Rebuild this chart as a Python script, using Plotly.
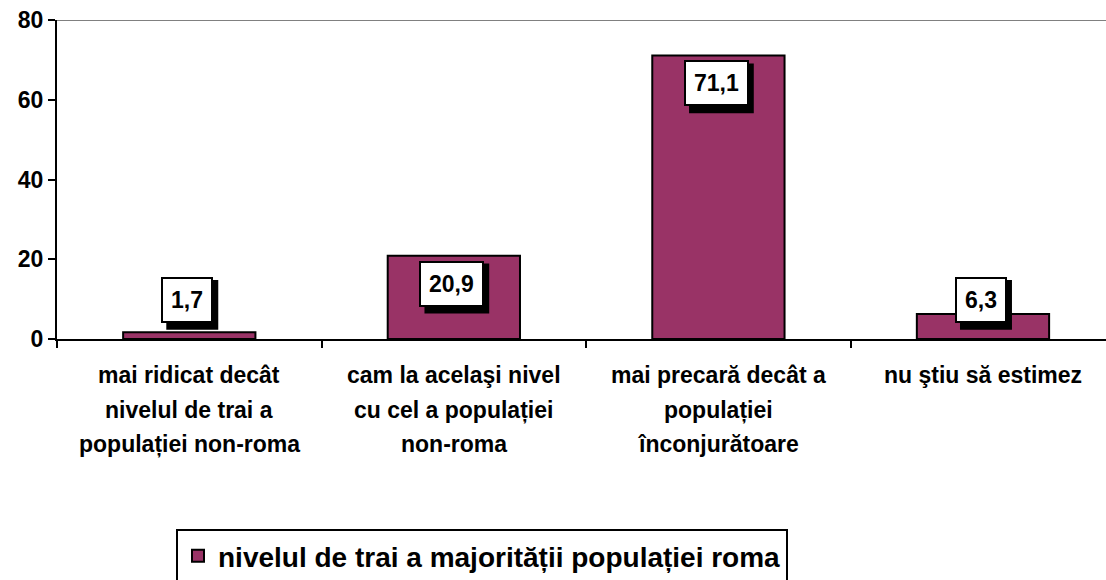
import plotly.graph_objects as go

# Data
categories = [
    ["mai ridicat decât", "nivelul de trai a", "populației non-roma"],
    ["cam la acelaşi nivel", "cu cel a populației", "non-roma"],
    ["mai precară decât a", "populației", "înconjurătoare"],
    ["nu ştiu să estimez"],
]
values = [1.7, 20.9, 71.1, 6.3]
value_labels = ["1,7", "20,9", "71,1", "6,3"]
series_name = "nivelul de trai a majorității populației roma"
y_ticks = [0, 20, 40, 60, 80]

FONT = "Arial, Liberation Sans, sans-serif"
FS = 23
BAR_COLOR = "#993366"
PAD, BW = 8, 2
x_pos = list(range(len(values)))

# Approximate Arial Bold advance widths (em) for the label characters
CHAR_W = {",": 0.278}


def label_box(text):
    w = sum(CHAR_W.get(c, 0.556) for c in text) * FS + 2 * PAD + 2 * BW
    h = FS * 1.3 + 2 * PAD + 2 * BW
    return w, h


fig = go.Figure()
fig.add_trace(go.Bar(
    x=x_pos,
    y=values,
    width=0.5,
    name=f"<b>{series_name}</b>",
    marker=dict(color=BAR_COLOR, line=dict(color="black", width=2)),
    showlegend=True,
))

annotations = []
shapes = [dict(type="line", xref="paper", yref="y", x0=0, x1=1, y0=80, y1=80,
               line=dict(color="#808080", width=2), layer="below")]

# Value labels: white boxes with a black drop shadow, placed inside the bar top
for xi, v, lab in zip(x_pos, values, value_labels):
    ly = max(v - 7.0, 9.8)
    w, h = label_box(lab)
    shapes.append(dict(
        type="rect", xref="x", yref="y",
        xsizemode="pixel", ysizemode="pixel", xanchor=xi, yanchor=ly,
        x0=-w / 2 + 3, x1=w / 2 + 3, y0=-h / 2 - 5, y1=h / 2 - 5,
        fillcolor="black", line=dict(width=0), layer="above",
    ))
    annotations.append(dict(
        x=xi, y=ly, xref="x", yref="y", text=f"<b>{lab}</b>", showarrow=False,
        font=dict(family=FONT, size=FS, color="black"),
        borderpad=PAD, borderwidth=BW, bgcolor="white", bordercolor="black",
        xanchor="center", yanchor="middle", xshift=-2,
    ))

# Category labels, one annotation per text line
line_offsets = [-36, -71, -105]
for xi, lines in zip(x_pos, categories):
    for ln, off in zip(lines, line_offsets):
        annotations.append(dict(
            x=xi, y=0, xref="x", yref="y", text=f"<b>{ln}</b>", showarrow=False,
            font=dict(family=FONT, size=FS, color="black"),
            xanchor="center", yanchor="middle", yshift=off,
        ))

fig.update_layout(
    width=1106, height=580,
    margin=dict(l=57, r=0, t=20, b=241, autoexpand=False),
    paper_bgcolor="white", plot_bgcolor="white",
    annotations=annotations,
    shapes=shapes,
    showlegend=True,
    legend=dict(
        x=(176 - 57) / 1049, y=(339 - 529) / 319, xanchor="left", yanchor="top",
        bgcolor="white", bordercolor="black", borderwidth=2,
        font=dict(family=FONT, size=28, color="black"),
        itemwidth=30,
    ),
    font=dict(family=FONT, size=FS, color="black"),
)

fig.update_xaxes(
    range=[-0.5, 3.465],
    tickvals=[-0.5, 0.5, 1.5, 2.5, 3.5],
    ticktext=["", "", "", "", ""],
    ticks="outside", ticklen=7, tickwidth=2, tickcolor="black",
    showline=True, linecolor="black", linewidth=2,
    showgrid=False, zeroline=False, fixedrange=True,
)
fig.update_yaxes(
    range=[0, 80],
    tickvals=y_ticks,
    ticktext=[f"<b>{t}</b>" for t in y_ticks],
    ticks="outside", ticklen=7, tickwidth=2, tickcolor="black",
    tickfont=dict(family=FONT, size=FS, color="black"),
    showline=True, linecolor="black", linewidth=2,
    showgrid=False, zeroline=False, fixedrange=True,
)

fig.write_html("out.html")
